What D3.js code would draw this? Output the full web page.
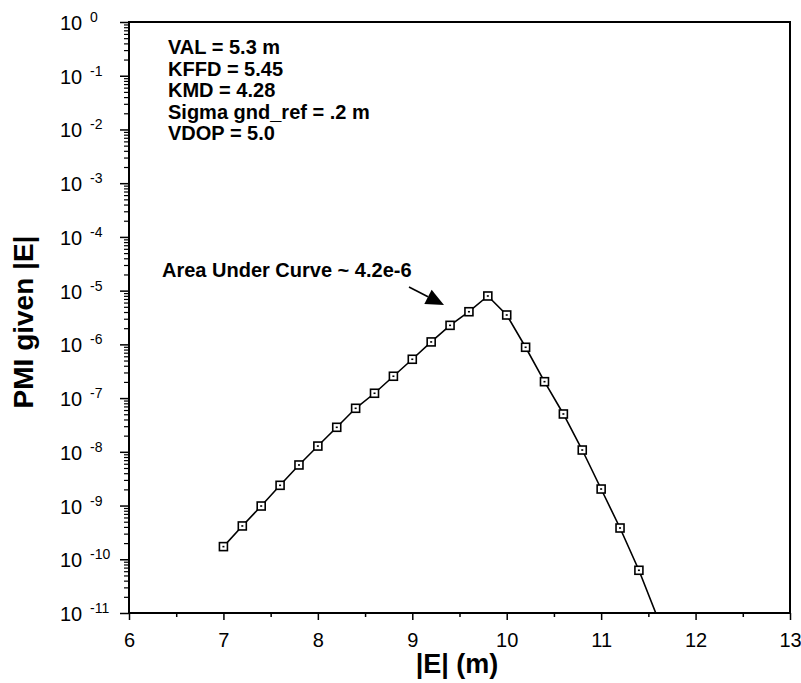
<!DOCTYPE html>
<html>
<head>
<meta charset="utf-8">
<script src="https://cdn.jsdelivr.net/npm/d3@7"></script>
<style>
  html, body { margin: 0; padding: 0; background: #fff; }
  svg { display: block; }
  text { font-family: "Liberation Sans", Arial, Helvetica, sans-serif; fill: #000; }
</style>
</head>
<body>
<svg id="chart" width="801" height="683"></svg>
<script>
// ---- data ----
const eValues = [7.0, 7.2, 7.4, 7.6, 7.8, 8.0, 8.2, 8.4, 8.6, 8.8, 9.0, 9.2, 9.4, 9.6, 9.8,
                 10.0, 10.2, 10.4, 10.6, 10.8, 11.0, 11.2, 11.4, 11.6];
const pmiValues = [1.72e-10, 4.17e-10, 9.8e-10, 2.38e-9, 5.69e-9, 1.28e-8, 2.86e-8, 6.46e-8,
                   1.23e-7, 2.55e-7, 5.28e-7, 1.11e-6, 2.26e-6, 4.05e-6, 7.95e-6,
                   3.52e-6, 8.83e-7, 2.02e-7, 5.06e-8, 1.08e-8, 2.03e-9, 3.82e-10, 6.24e-11, 8.0e-12];
const xTickValues = [6, 7, 8, 9, 10, 11, 12, 13];
const xMinorTickValues = [6.5, 7.5, 8.5, 9.5, 10.5, 11.5, 12.5];
const yExponents = [0, -1, -2, -3, -4, -5, -6, -7, -8, -9, -10, -11];
const infoLines = ["VAL = 5.3 m", "KFFD = 5.45", "KMD = 4.28", "Sigma gnd_ref = .2 m", "VDOP = 5.0"];
const areaLabel = "Area Under Curve ~ 4.2e-6";
const xTitle = "|E| (m)";
const yTitle = "PMI given |E|";

// ---- layout ----
const pLeft = 129, pRight = 790, pTop = 22, pBottom = 613;
const svg = d3.select("#chart");

const x = d3.scaleLinear().domain([6, 13]).range([pLeft, pRight]);
const y = d3.scaleLog().domain([1e-11, 1]).range([pBottom, pTop]);

// clip
svg.append("defs").append("clipPath").attr("id", "plotClip")
  .append("rect").attr("x", pLeft).attr("y", pTop).attr("width", pRight - pLeft).attr("height", pBottom - pTop);

// x axis
const xAxisG = svg.append("g").attr("transform", `translate(0,${pBottom})`)
  .call(d3.axisBottom(x).tickValues(xTickValues).tickSize(7).tickPadding(13).tickFormat(d3.format("d")));
xAxisG.select(".domain").remove();
xAxisG.selectAll("line").attr("stroke", "#000").attr("stroke-width", 1.5);
xAxisG.selectAll("text").attr("font-size", 20).attr("fill", "#000")
  .style("font-family", "Liberation Sans, Arial, sans-serif");

const xMinorG = svg.append("g").attr("transform", `translate(0,${pBottom})`)
  .call(d3.axisBottom(x).tickValues(xMinorTickValues).tickSize(4).tickFormat(""));
xMinorG.select(".domain").remove();
xMinorG.selectAll("line").attr("stroke", "#000").attr("stroke-width", 1.5);

// y axis
const majorY = yExponents.map(e => Math.pow(10, e));
const minorY = [];
yExponents.slice(1).forEach(e => { for (let m = 2; m <= 9; m++) minorY.push(m * Math.pow(10, e)); });

const yAxisG = svg.append("g").attr("transform", `translate(${pLeft},0)`)
  .call(d3.axisLeft(y).tickValues(majorY).tickSize(9).tickFormat(""));
yAxisG.select(".domain").remove();
yAxisG.selectAll("line").attr("stroke", "#000").attr("stroke-width", 1.5);

const yMinorG = svg.append("g").attr("transform", `translate(${pLeft},0)`)
  .call(d3.axisLeft(y).tickValues(minorY).tickSize(5).tickFormat(""));
yMinorG.select(".domain").remove();
yMinorG.selectAll("line").attr("stroke", "#000").attr("stroke-width", 1.2);

// y labels 10^e
const yLab = svg.append("g");
yExponents.forEach(e => {
  const yy = y(Math.pow(10, e));
  yLab.append("text").attr("x", 60).attr("y", yy + 8).attr("font-size", 20).text("10");
  yLab.append("text").attr("x", 90).attr("y", yy).attr("font-size", 14).text(String(e));
});

// frame
svg.append("rect").attr("x", pLeft).attr("y", pTop).attr("width", pRight - pLeft).attr("height", pBottom - pTop)
  .attr("fill", "none").attr("stroke", "#000").attr("stroke-width", 2);

// line
const data = eValues.map((e, i) => ({ e, p: pmiValues[i] }));
const plot = svg.append("g").attr("clip-path", "url(#plotClip)");
plot.append("path").datum(data)
  .attr("fill", "none").attr("stroke", "#000").attr("stroke-width", 1.6)
  .attr("d", d3.line().x(d => x(d.e)).y(d => y(d.p)));

// markers
const mk = plot.selectAll("g.mk").data(data.filter(d => d.p >= 1e-11)).enter().append("g")
  .attr("class", "mk").attr("transform", d => `translate(${x(d.e)},${y(d.p)})`);
mk.append("rect").attr("x", -4).attr("y", -4).attr("width", 8).attr("height", 8)
  .attr("fill", "#fff").attr("stroke", "#000").attr("stroke-width", 1.6);
mk.append("rect").attr("x", -1).attr("y", -0.8).attr("width", 2).attr("height", 1.6).attr("fill", "#000");

// info text
const info = svg.append("g");
infoLines.forEach((t, i) => {
  info.append("text").attr("x", 168).attr("y", 54 + i * 21.6)
    .attr("font-size", 20).attr("font-weight", "bold").text(t);
});

// area annotation
svg.append("text").attr("x", 162).attr("y", 277).attr("font-size", 20).attr("font-weight", "bold").text(areaLabel);
const ax0 = 409, ay0 = 287, ax1 = 444, ay1 = 305;
const ang = Math.atan2(ay1 - ay0, ax1 - ax0);
const hl = 18, hw = 8;
const bx = ax1 - hl * Math.cos(ang), by = ay1 - hl * Math.sin(ang);
svg.append("line").attr("x1", ax0).attr("y1", ay0).attr("x2", bx).attr("y2", by)
  .attr("stroke", "#000").attr("stroke-width", 1.6);
svg.append("polygon")
  .attr("points", [[ax1, ay1],
    [bx + hw * Math.sin(ang), by - hw * Math.cos(ang)],
    [bx - hw * Math.sin(ang), by + hw * Math.cos(ang)]].map(p => p.join(",")).join(" "))
  .attr("fill", "#000");

// titles
svg.append("text").attr("x", 457).attr("y", 673).attr("text-anchor", "middle")
  .attr("font-size", 27).attr("font-weight", "bold").text(xTitle);
svg.append("text").attr("transform", "translate(33,322) rotate(-90)").attr("text-anchor", "middle")
  .attr("font-size", 28).attr("font-weight", "bold").text(yTitle);
</script>
</body>
</html>
